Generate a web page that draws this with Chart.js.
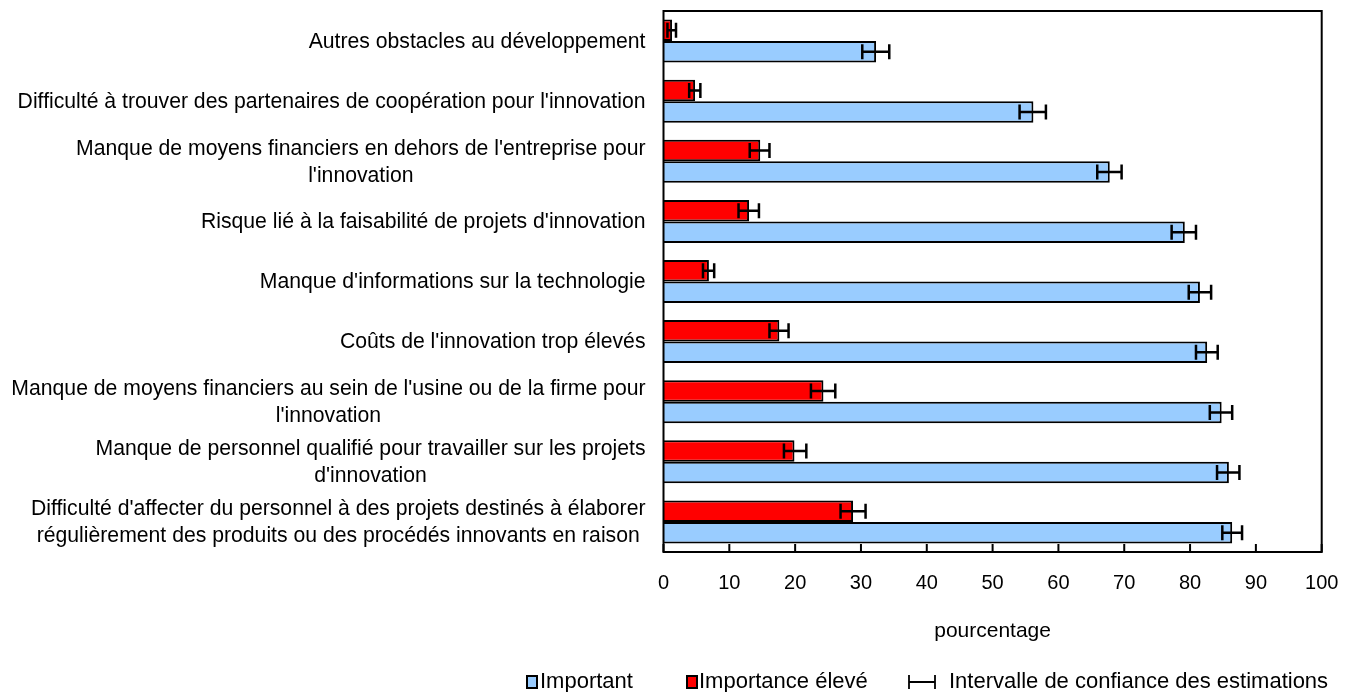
<!DOCTYPE html>
<html><head><meta charset="utf-8">
<script src="https://cdn.jsdelivr.net/npm/chart.js@4.4.1/dist/chart.umd.min.js"></script>
<style>html,body{margin:0;padding:0;background:#fff;}#wrap{position:relative;width:1353px;height:692px;}</style>
</head><body><div id="wrap"><canvas id="c" width="1353" height="692"></canvas></div>
<script>
const categories = [
  ["Autres obstacles au développement"],
  ["Difficulté à trouver des partenaires de coopération pour l'innovation"],
  ["Manque de moyens financiers en dehors de l'entreprise pour", "l'innovation"],
  ["Risque lié à la faisabilité de projets d'innovation"],
  ["Manque d'informations sur la technologie"],
  ["Coûts de l'innovation trop élevés"],
  ["Manque de moyens financiers au sein de l'usine ou de la firme pour", "l'innovation"],
  ["Manque de personnel qualifié pour travailler sur les projets", "d'innovation"],
  ["Difficulté d'affecter du personnel à des projets destinés à élaborer", "régulièrement des produits ou des procédés innovants en raison"]
];
const seriesNames = ["Important", "Importance élevé"];
const errorLegendText = "Intervalle de confiance des estimations";
const axisTitle = "pourcentage";

const important     = [32.3, 56.2, 67.8, 79.2, 81.5, 82.6, 84.8, 85.9, 86.4];
const importantLow  = [30.2, 54.1, 65.9, 77.2, 79.8, 80.9, 83.0, 84.1, 84.9];
const importantHigh = [34.3, 58.1, 69.6, 80.9, 83.2, 84.2, 86.4, 87.5, 87.9];

const eleve     = [1.3, 4.8, 14.7, 13.0, 6.9, 17.6, 24.3, 19.9, 28.8];
const eleveLow  = [0.6, 3.9, 13.1, 11.4, 6.0, 16.1, 22.4, 18.3, 26.9];
const eleveHigh = [1.9, 5.6, 16.1, 14.5, 7.7, 19.0, 26.1, 21.7, 30.7];

const xTickValues = [0, 10, 20, 30, 40, 50, 60, 70, 80, 90, 100];

const FONT = '"Liberation Sans", Arial, sans-serif';
const errorSets = [[eleveLow, eleveHigh], [importantLow, importantHigh]];

const decor = {
  id: 'decor',
  afterDraw(chart) {
    const ctx = chart.ctx;
    const a = chart.chartArea;
    const xs = chart.scales.x, ys = chart.scales.y;
    ctx.save();
    // frame
    ctx.strokeStyle = '#000'; ctx.lineWidth = 2;
    ctx.strokeRect(a.left, a.top, a.right - a.left, a.bottom - a.top);
    // inner ticks
    ctx.beginPath();
    xTickValues.forEach(v => {
      const x = xs.getPixelForValue(v);
      ctx.moveTo(x, a.bottom); ctx.lineTo(x, a.bottom - 8);
    });
    ctx.stroke();
    // error bars
    chart.data.datasets.forEach((ds, di) => {
      const meta = chart.getDatasetMeta(di);
      const [lo, hi] = errorSets[di];
      meta.data.forEach((el, i) => {
        const y = el.y;
        const x1 = xs.getPixelForValue(lo[i]);
        const x2 = xs.getPixelForValue(hi[i]);
        ctx.lineWidth = 2.5;
        ctx.beginPath();
        ctx.moveTo(x1, y); ctx.lineTo(x2, y);
        ctx.moveTo(x1, y - 7.5); ctx.lineTo(x1, y + 7.5);
        ctx.moveTo(x2, y - 7.5); ctx.lineTo(x2, y + 7.5);
        ctx.stroke();
      });
    });
    // category labels (block right-aligned, lines centred)
    ctx.font = '21.2px ' + FONT;
    ctx.fillStyle = '#000';
    ctx.textBaseline = 'middle';
    ctx.textAlign = 'center';
    const rightEdge = a.left - 18;
    chart.data.labels.forEach((lines, i) => {
      const yc = ys.getPixelForTick(i);
      const w = Math.max(...lines.map(l => ctx.measureText(l).width));
      const cx = rightEdge - w / 2;
      lines.forEach((l, j) => ctx.fillText(l, cx, yc + 1 + (j - (lines.length - 1) / 2) * 27));
    });
    // legend
    ctx.font = '22px ' + FONT;
    ctx.textAlign = 'left';
    ctx.textBaseline = 'alphabetic';
    const by = 688;
    ctx.lineWidth = 2;
    ctx.fillStyle = chart.data.datasets[1].backgroundColor;
    ctx.fillRect(527, 676, 10, 12); ctx.strokeRect(527, 676, 10, 12);
    ctx.fillStyle = '#000'; ctx.fillText(chart.data.datasets[1].label, 540, by);
    ctx.fillStyle = chart.data.datasets[0].backgroundColor;
    ctx.fillRect(687, 676, 10, 12); ctx.strokeRect(687, 676, 10, 12);
    ctx.fillStyle = '#000'; ctx.fillText(chart.data.datasets[0].label, 699, by);
    ctx.lineWidth = 1.8;
    ctx.beginPath();
    ctx.moveTo(909, 682); ctx.lineTo(935, 682);
    ctx.moveTo(909, 675); ctx.lineTo(909, 689);
    ctx.moveTo(935, 675); ctx.lineTo(935, 689);
    ctx.stroke();
    ctx.fillText(errorLegendText, 949, by);
    ctx.restore();
  }
};

new Chart(document.getElementById('c'), {
  type: 'bar',
  data: {
    labels: categories,
    datasets: [
      { label: seriesNames[1], data: eleve, backgroundColor: '#FF0000', borderColor: '#000',
        borderWidth: 2, borderSkipped: 'start',
        categoryPercentage: 0.715, barPercentage: 1 },
      { label: seriesNames[0], data: important, backgroundColor: '#99CCFF', borderColor: '#000',
        borderWidth: 2, borderSkipped: 'start',
        categoryPercentage: 0.715, barPercentage: 1 }
    ]
  },
  options: {
    indexAxis: 'y',
    responsive: false,
    animation: false,
    devicePixelRatio: 1,
    layout: { padding: { left: 0, right: 31.3, top: 11, bottom: 48.4 } },
    plugins: { legend: { display: false }, tooltip: { enabled: false } },
    scales: {
      x: {
        type: 'linear', position: 'bottom', min: 0, max: 100,
        afterBuildTicks(s) { s.ticks = xTickValues.map(v => ({ value: v })); },
        grid: { display: false, drawTicks: false },
        border: { display: false },
        ticks: { padding: 19, color: '#000', autoSkip: false, maxRotation: 0,
                 font: { family: FONT, size: 20 } },
        title: { display: true, text: axisTitle, color: '#000', padding: 0,
                 font: { family: FONT, size: 21 } },
        afterFit(s) { s.height = 91.6; s.paddingRight = 0; s.paddingLeft = 0; }
      },
      y: {
        type: 'category',
        grid: { display: false, drawTicks: false },
        border: { display: false },
        ticks: { display: false },
        afterFit(s) { s.width = 663.5; }
      }
    }
  },
  plugins: [decor]
});
</script>
</body></html>
